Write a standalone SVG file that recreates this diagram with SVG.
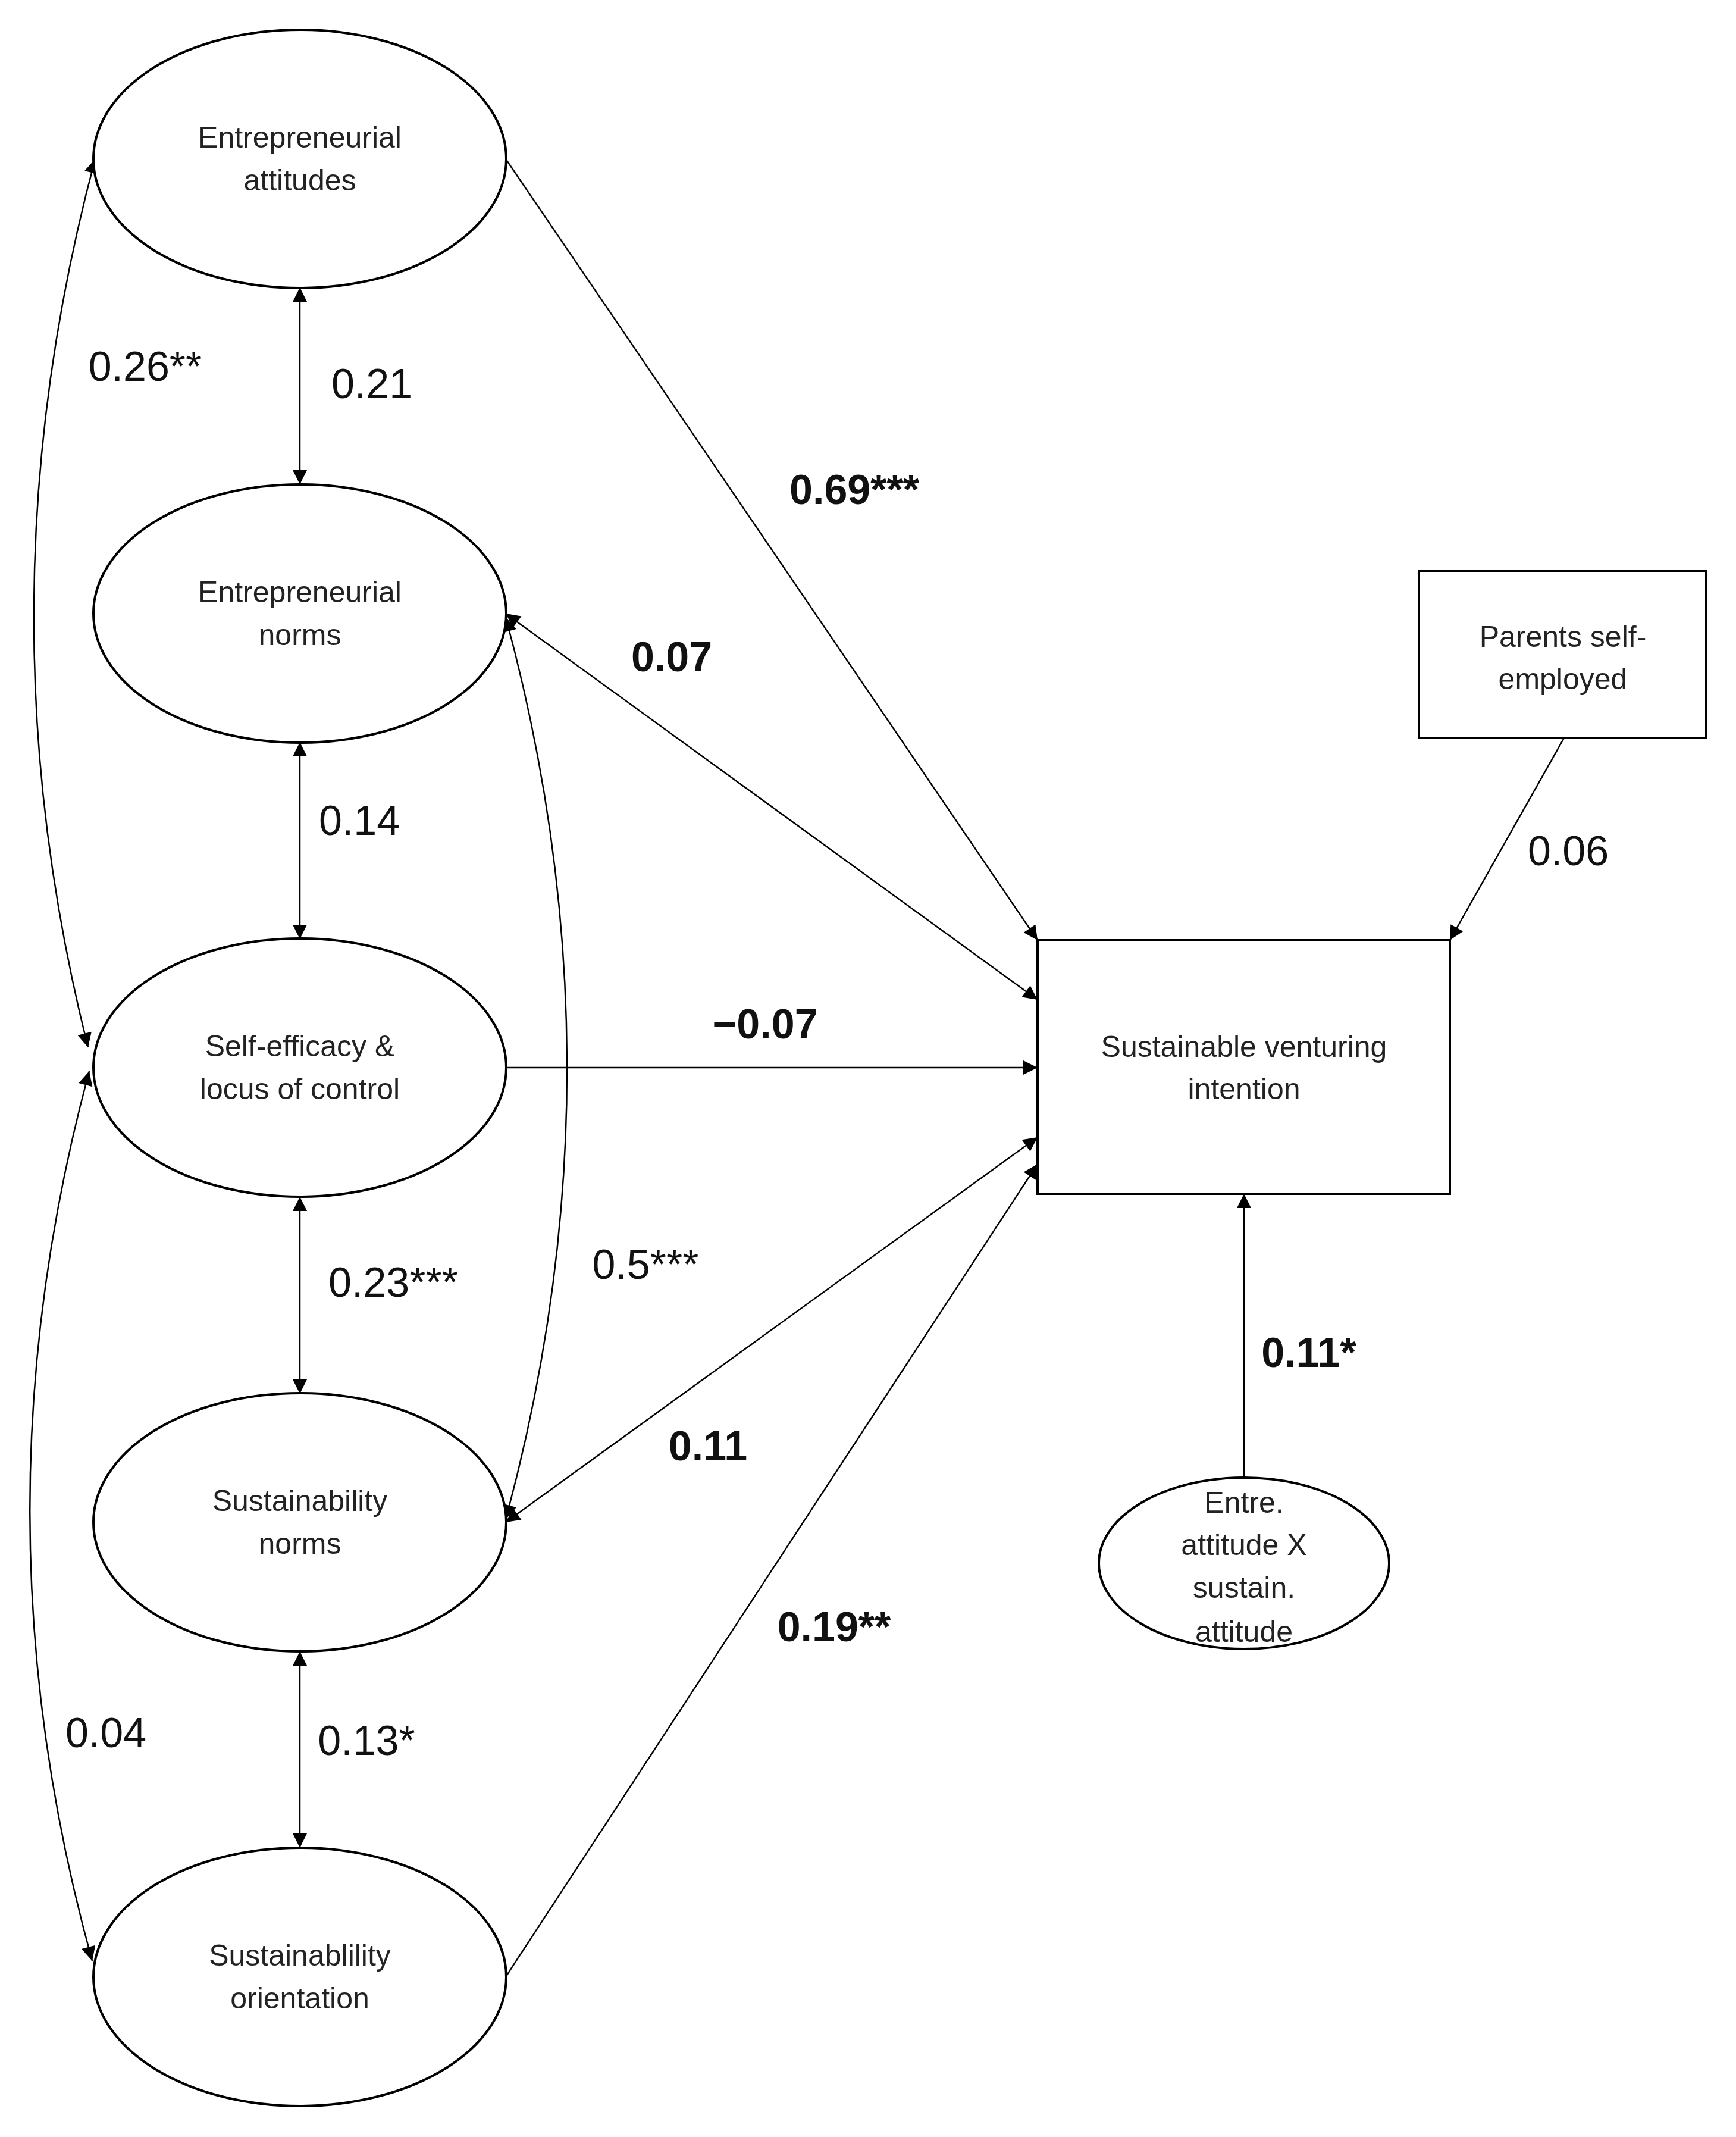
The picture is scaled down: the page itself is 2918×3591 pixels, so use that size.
<svg xmlns="http://www.w3.org/2000/svg" width="2918" height="3591" viewBox="0 0 2918 3591">
<style>
.n{fill:#fff;stroke:#000;stroke-width:4}
.t{font-family:"Liberation Sans",Arial,sans-serif;font-size:50px;text-anchor:middle;fill:#222}
.l{font-family:"Liberation Sans",Arial,sans-serif;font-size:70px;text-anchor:middle;fill:#111}
.b{font-weight:bold}
.c path,.c line{fill:none;stroke:#000;stroke-width:2.5}
</style>
<defs>
<marker id="a" viewBox="0 0 10 10" refX="10" refY="5" markerWidth="28" markerHeight="24" markerUnits="userSpaceOnUse" orient="auto-start-reverse"><path d="M0,0L10,5L0,10z" fill="#000"/></marker>
</defs>
<rect width="2918" height="3591" fill="#fff"/>
<g class="c">
<line x1="504" y1="483" x2="504" y2="814" marker-start="url(#a)" marker-end="url(#a)"/>
<line x1="504" y1="1247" x2="504" y2="1578" marker-start="url(#a)" marker-end="url(#a)"/>
<line x1="504" y1="2011" x2="504" y2="2342" marker-start="url(#a)" marker-end="url(#a)"/>
<line x1="504" y1="2775" x2="504" y2="3105" marker-start="url(#a)" marker-end="url(#a)"/>
<path d="M160,267 Q-40,1014 148,1760" marker-start="url(#a)" marker-end="url(#a)"/>
<path d="M150,1800 Q-52,2548 155,3295" marker-start="url(#a)" marker-end="url(#a)"/>
<path d="M850,1037 Q1056,1795 850,2553" marker-start="url(#a)" marker-end="url(#a)"/>
<line x1="850" y1="267" x2="1744" y2="1580" marker-end="url(#a)"/>
<line x1="850" y1="1031" x2="1744" y2="1680" marker-start="url(#a)" marker-end="url(#a)"/>
<line x1="850" y1="1794" x2="1744" y2="1794" marker-end="url(#a)"/>
<line x1="850" y1="2558" x2="1744" y2="1911" marker-start="url(#a)" marker-end="url(#a)"/>
<line x1="850" y1="3322" x2="1744" y2="1956" marker-end="url(#a)"/>
<line x1="2629" y1="1240" x2="2437" y2="1580" marker-end="url(#a)"/>
<line x1="2091" y1="2483" x2="2091" y2="2006" marker-end="url(#a)"/>
</g>
<g id="e1"><ellipse class="n" cx="504" cy="267" rx="347" ry="217"/><text class="t" x="504" y="248">Entrepreneurial</text><text class="t" x="504" y="320">attitudes</text></g>
<g id="e2"><ellipse class="n" cx="504" cy="1031" rx="347" ry="217"/><text class="t" x="504" y="1012">Entrepreneurial</text><text class="t" x="504" y="1084">norms</text></g>
<g id="e3"><ellipse class="n" cx="504" cy="1794" rx="347" ry="217"/><text class="t" x="504" y="1775">Self-efficacy &amp;</text><text class="t" x="504" y="1847">locus of control</text></g>
<g id="e4"><ellipse class="n" cx="504" cy="2558" rx="347" ry="217"/><text class="t" x="504" y="2539">Sustainability</text><text class="t" x="504" y="2611">norms</text></g>
<g id="e5"><ellipse class="n" cx="504" cy="3322" rx="347" ry="217"/><text class="t" x="504" y="3303">Sustainablility</text><text class="t" x="504" y="3375">orientation</text></g>
<g id="svi"><rect class="n" x="1744" y="1580" width="693" height="426"/><text class="t" x="2091" y="1776">Sustainable venturing</text><text class="t" x="2091" y="1847">intention</text></g>
<g id="par"><rect class="n" x="2385" y="960" width="483" height="280"/><text class="t" x="2627" y="1087">Parents self-</text><text class="t" x="2627" y="1158">employed</text></g>
<g id="int"><ellipse class="n" cx="2091" cy="2627" rx="244" ry="144"/><text class="t" x="2091" y="2542">Entre.</text><text class="t" x="2091" y="2613">attitude X</text><text class="t" x="2091" y="2685">sustain.</text><text class="t" x="2091" y="2759">attitude</text></g>
<g id="labels">
<text class="l" x="244" y="640">0.26**</text>
<text class="l" x="625" y="669">0.21</text>
<text class="l b" x="1436" y="847">0.69***</text>
<text class="l b" x="1129" y="1128">0.07</text>
<text class="l" x="604" y="1403">0.14</text>
<text class="l" x="2636" y="1454">0.06</text>
<text class="l b" x="1286" y="1745">−0.07</text>
<text class="l" x="661" y="2179">0.23***</text>
<text class="l" x="1085" y="2149">0.5***</text>
<text class="l b" x="2200" y="2297">0.11*</text>
<text class="l b" x="1190" y="2454">0.11</text>
<text class="l b" x="1402" y="2758">0.19**</text>
<text class="l" x="178" y="2936">0.04</text>
<text class="l" x="616" y="2949">0.13*</text>
</g>
</svg>
